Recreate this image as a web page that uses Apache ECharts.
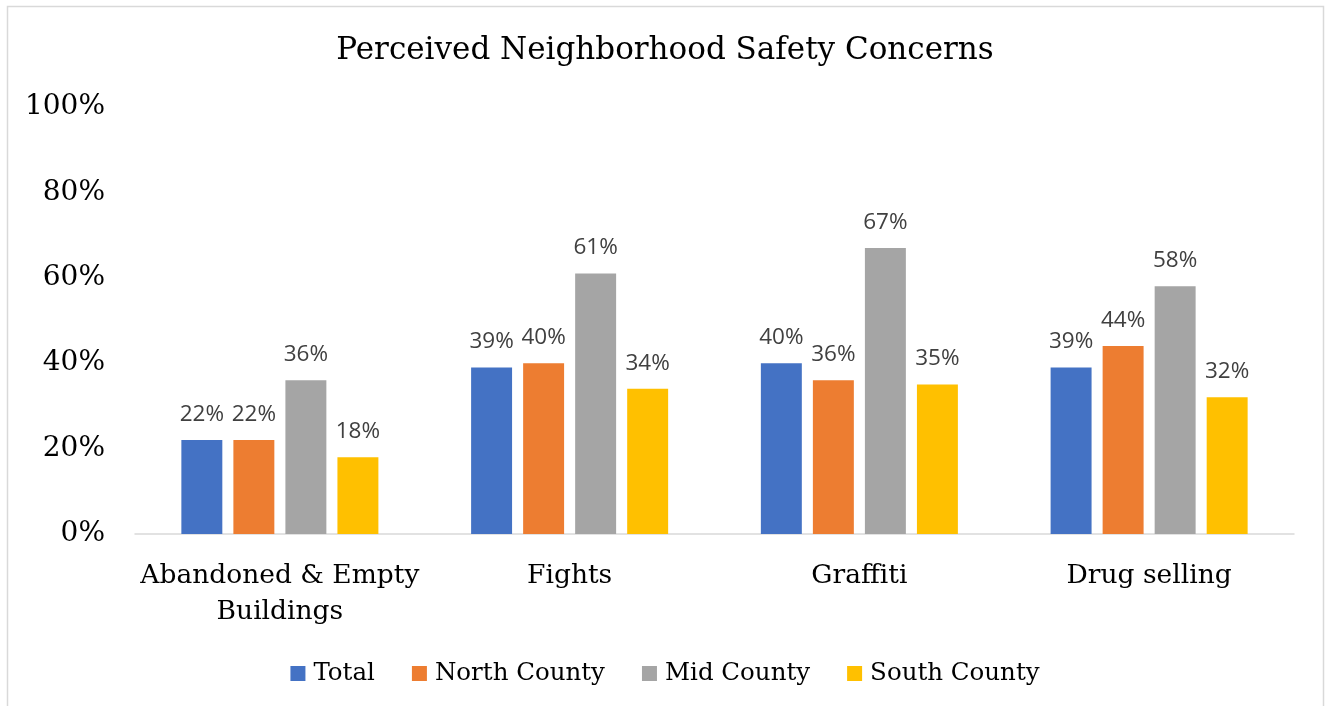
<!DOCTYPE html>
<html>
<head>
<meta charset="utf-8">
<script src="https://cdn.jsdelivr.net/npm/echarts@6/dist/echarts.min.js"></script>
<style>
  html, body { margin: 0; padding: 0; background: #fff; }
  #chart { width: 1330px; height: 706px; }
</style>
</head>
<body>
<div id="chart"></div>
<script>
// Survey categories and the share of respondents reporting each concern
const categories = ['Abandoned & Empty\nBuildings', 'Fights', 'Graffiti', 'Drug selling'];
const seriesNames = ['Total', 'North County', 'Mid County', 'South County'];
const total       = [22, 39, 40, 39];
const northCounty = [22, 40, 36, 44];
const midCounty   = [36, 61, 67, 58];
const southCounty = [18, 34, 35, 32];
const yTicks = [0, 20, 40, 60, 80, 100];

const colors = ['#4472C4', '#ED7D31', '#A5A5A5', '#FFC000'];
const serif = 'DejaVu Serif';
const values = [total, northCounty, midCounty, southCounty];

const chart = echarts.init(document.getElementById('chart'), null, { renderer: 'canvas' });

chart.setOption({
  animation: false,
  color: colors,
  title: {
    text: 'Perceived Neighborhood Safety Concerns',
    left: 'center',
    top: 30,
    textStyle: { fontFamily: serif, fontSize: 31, fontWeight: 'normal', color: '#000' }
  },
  graphic: [{
    type: 'rect',
    shape: { x: 7.5, y: 6.5, width: 1316, height: 720 },
    style: { fill: null, stroke: '#d9d9d9', lineWidth: 1.5 },
    silent: true
  }],
  legend: {
    bottom: 15,
    left: 'center',
    itemWidth: 15,
    itemHeight: 15,
    itemGap: 37,
    icon: 'rect',
    textStyle: { fontFamily: serif, fontSize: 24.5, color: '#000', padding: [0, 0, 0, 3] },
    data: seriesNames
  },
  grid: { left: 135, right: 36, top: 107, bottom: 172 },
  xAxis: {
    type: 'category',
    data: categories,
    axisLine: { lineStyle: { color: '#d9d9d9', width: 1.5 } },
    axisTick: { show: false },
    axisLabel: {
      fontFamily: serif, fontSize: 26.5, color: '#000',
      margin: 24, lineHeight: 36, interval: 0
    }
  },
  yAxis: {
    type: 'value',
    min: yTicks[0],
    max: yTicks[yTicks.length - 1],
    interval: 20,
    splitLine: { show: false },
    axisLine: { show: false },
    axisTick: { show: false },
    axisLabel: {
      fontFamily: serif, fontSize: 28, color: '#000', margin: 30,
      formatter: v => v + '%'
    }
  },
  series: seriesNames.map((name, i) => ({
    name,
    type: 'bar',
    data: values[i],
    barGap: '27%',
    barCategoryGap: '32%',
    label: {
      show: true,
      position: 'top',
      distance: 14,
      fontFamily: 'Open Sans',
      fontSize: 22.5,
      color: '#404040',
      formatter: p => p.value + '%'
    }
  }))
});
</script>
</body>
</html>
